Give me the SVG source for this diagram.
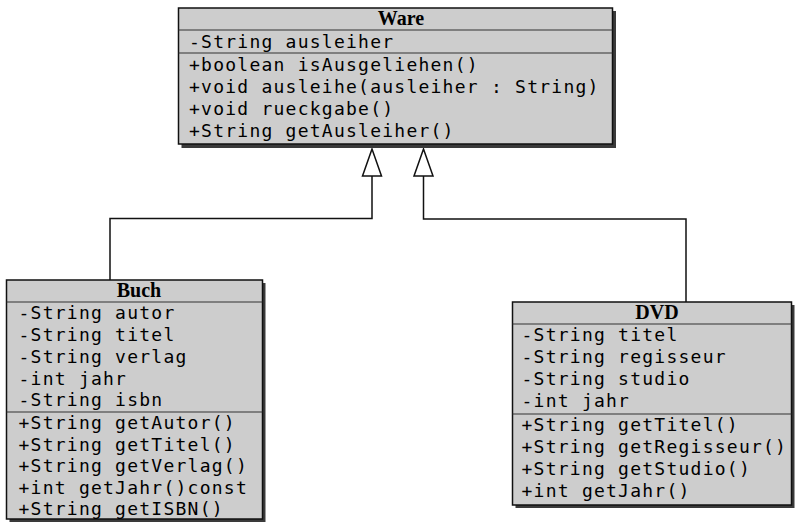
<svg xmlns="http://www.w3.org/2000/svg" width="803" height="530" viewBox="0 0 803 530">
  <defs>
    <style>
      .shadow { fill: #3a3a3a; }
      .box { fill: #cdcdcd; stroke: #111; stroke-width: 1.5; }
      .sep { stroke: #333; stroke-width: 1.2; }
      .title { font-family: "Liberation Serif", serif; font-weight: bold; font-size: 20px; fill: #000; text-anchor: middle; }
      .member { font-family: "DejaVu Sans Mono", monospace; font-size: 18px; letter-spacing: 1.24px; fill: #000; }
      .edge { fill: none; stroke: #111; stroke-width: 1.5; }
      .head { fill: #fff; stroke: #111; stroke-width: 1.5; stroke-linejoin: miter; }
    </style>
  </defs>

  <!-- generalization connectors -->
  <g id="connectors">
    <polyline class="edge" points="110,280 110,218.5 372,218.5 372,176"/>
    <polygon class="head" points="372,149 362.5,176 381.5,176"/>
    <polyline class="edge" points="686,302 686,219 423.5,219 423.5,176"/>
    <polygon class="head" points="423.5,149 414,176 433,176"/>
  </g>

  <!-- class Ware -->
  <g id="ware">
    <rect class="shadow" x="181.5" y="11" width="434.5" height="137"/>
    <rect class="box" x="178.5" y="8" width="434" height="136"/>
    <line class="sep" x1="178.5" y1="30" x2="612.5" y2="30"/>
    <line class="sep" x1="178.5" y1="53" x2="612.5" y2="53"/>
    <text class="title" x="401" y="25">Ware</text>
    <text class="member" x="189" y="48">-String ausleiher</text>
    <text class="member" x="189" y="71">+boolean isAusgeliehen()</text>
    <text class="member" x="189" y="93">+void ausleihe(ausleiher : String)</text>
    <text class="member" x="189" y="115">+void rueckgabe()</text>
    <text class="member" x="189" y="137">+String getAusleiher()</text>
  </g>

  <!-- class Buch -->
  <g id="buch">
    <rect class="shadow" x="9.5" y="283" width="256" height="239"/>
    <rect class="box" x="6.5" y="280" width="256" height="239"/>
    <line class="sep" x1="6.5" y1="302" x2="262.5" y2="302"/>
    <line class="sep" x1="6.5" y1="412" x2="262.5" y2="412"/>
    <text class="title" x="139" y="297">Buch</text>
    <text class="member" x="18.5" y="319">-String autor</text>
    <text class="member" x="18.5" y="341">-String titel</text>
    <text class="member" x="18.5" y="363">-String verlag</text>
    <text class="member" x="18.5" y="384.5">-int jahr</text>
    <text class="member" x="18.5" y="406">-String isbn</text>
    <text class="member" x="18.5" y="429">+String getAutor()</text>
    <text class="member" x="18.5" y="450.5">+String getTitel()</text>
    <text class="member" x="18.5" y="472">+String getVerlag()</text>
    <text class="member" x="18.5" y="493.5">+int getJahr()const</text>
    <text class="member" x="18.5" y="515">+String getISBN()</text>
  </g>

  <!-- class DVD -->
  <g id="dvd">
    <rect class="shadow" x="515.5" y="305" width="279" height="203"/>
    <rect class="box" x="512.5" y="302" width="279" height="203"/>
    <line class="sep" x1="512.5" y1="324" x2="791.5" y2="324"/>
    <line class="sep" x1="512.5" y1="414" x2="791.5" y2="414"/>
    <text class="title" x="657" y="319">DVD</text>
    <text class="member" x="521.5" y="341">-String titel</text>
    <text class="member" x="521.5" y="363">-String regisseur</text>
    <text class="member" x="521.5" y="385">-String studio</text>
    <text class="member" x="521.5" y="407">-int jahr</text>
    <text class="member" x="521.5" y="431">+String getTitel()</text>
    <text class="member" x="521.5" y="453">+String getRegisseur()</text>
    <text class="member" x="521.5" y="475">+String getStudio()</text>
    <text class="member" x="521.5" y="497">+int getJahr()</text>
  </g>
</svg>
